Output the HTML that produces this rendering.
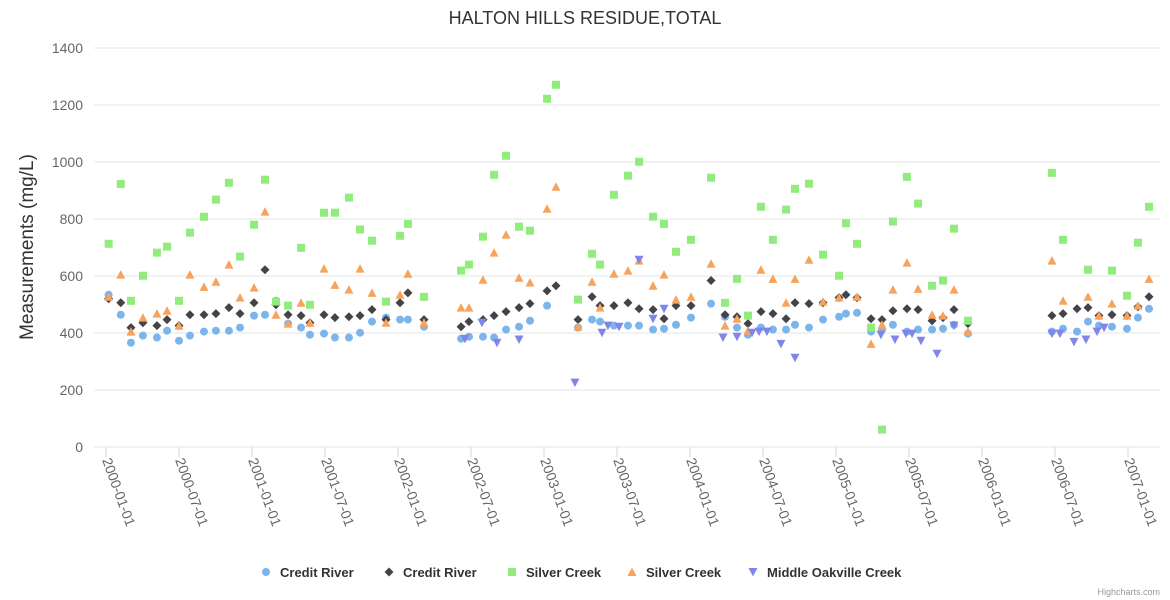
<!DOCTYPE html>
<html><head><meta charset="utf-8">
<style>
html,body{margin:0;padding:0;background:#fff;width:1170px;height:600px;overflow:hidden}
svg{font-family:"Liberation Sans",Arial,sans-serif;display:block}
</style></head>
<body>
<svg id="chart" width="1170" height="600" viewBox="0 0 1170 600" xmlns="http://www.w3.org/2000/svg">
<text x="585" y="24" text-anchor="middle" font-size="18" fill="#333">HALTON HILLS RESIDUE,TOTAL</text>
<text transform="translate(33,247) rotate(-90)" text-anchor="middle" font-size="19" fill="#333">Measurements (mg/L)</text>
<g id="grid"></g><g id="xlabels"></g><g id="marks"></g><g id="legend"></g>
<text x="1160" y="595" text-anchor="end" font-size="9" fill="#999">Highcharts.com</text>
</svg>
<script>
const yTicks = [0,200,400,600,800,1000,1200,1400];
const xTickLabels = ["2000-01-01","2000-07-01","2001-01-01","2001-07-01","2002-01-01","2002-07-01","2003-01-01","2003-07-01","2004-01-01","2004-07-01","2005-01-01","2005-07-01","2006-01-01","2006-07-01","2007-01-01"];
// sample dates, decimal years since 2000-01-01
const sampleYears = [0.018,0.101,0.171,0.253,0.349,0.418,0.5,0.575,0.671,0.753,0.842,0.918,1.014,1.089,1.164,1.247,1.336,1.397,1.493,1.568,1.664,1.740,1.822,1.918,
2.014,2.068,2.178,2.432,2.486,2.582,2.658,2.740,2.829,2.904,3.021,3.082,3.233,3.329,3.384,3.479,3.575,3.651,3.747,3.822,3.904,4.007,
4.144,4.240,4.322,4.397,4.486,4.568,4.658,4.719,4.815,4.911,5.021,5.068,5.144,5.240,5.315,5.390,5.486,5.562,5.658,5.733,5.808,5.904,
6.479,6.555,6.651,6.726,6.801,6.890,6.993,7.068,7.144];
const creditRiverA = [534,464,366,391,384,408,373,391,405,408,408,419,461,464,513,433,419,394,398,384,384,401,440,454,
447,447,422,380,387,387,384,412,422,443,496,null,419,447,440,426,426,426,412,415,429,454,
503,457,419,394,419,412,412,429,419,447,457,468,471,405,412,429,405,412,412,415,429,398,
405,415,405,440,426,422,415,454,485];
const creditRiverB = [520,506,419,436,426,447,426,464,464,468,489,468,506,622,499,464,461,436,464,454,457,461,482,447,
506,541,447,422,440,447,461,475,489,503,548,566,447,527,496,496,506,485,482,450,496,496,
584,464,457,433,475,468,450,506,503,506,524,534,524,450,447,478,485,482,443,454,482,433,
461,468,485,489,461,464,461,492,527];
const silverCreekA = [713,923,513,601,682,703,513,752,808,868,927,668,780,938,510,496,699,499,822,822,875,763,724,510,
741,783,527,619,640,738,955,1022,773,759,1222,1271,517,678,640,885,952,1001,808,783,685,727,
945,506,590,461,843,727,833,906,924,675,601,785,713,419,61,791,948,854,566,584,766,443,
962,727,null,622,null,619,531,717,843];
const silverCreekB = [527,605,405,454,468,478,426,605,562,580,640,524,559,826,464,433,506,436,626,569,552,626,541,436,
534,608,436,489,489,587,682,745,594,577,836,913,422,580,489,608,619,654,566,605,517,527,
643,426,450,408,622,590,506,590,657,510,524,null,527,362,429,552,647,555,464,461,552,405,
654,513,null,527,461,503,461,496,590];
const oakvilleYears = [2.459,2.575,2.678,2.829,3.212,3.397,3.438,3.514,3.651,3.747,3.822,4.226,4.322,4.425,4.473,4.527,4.623,4.719,5.308,5.404,5.479,5.521,5.582,5.692,5.808,6.479,6.534,6.630,6.712,6.788,6.836];
const oakvilleValues = [380,436,366,377,226,401,426,422,657,450,485,384,387,401,405,405,362,313,394,377,398,398,373,327,426,398,398,369,377,405,419];

const NS="http://www.w3.org/2000/svg";
function yScale(v){return 447 - v*(399/1400);}
function xScale(t){return 106 + t*146;}
function mk(tag,attrs,parent){const e=document.createElementNS(NS,tag);for(const k in attrs)e.setAttribute(k,attrs[k]);parent.appendChild(e);return e;}
const grid=document.getElementById('grid'), xl=document.getElementById('xlabels'), marks=document.getElementById('marks'), leg=document.getElementById('legend');
yTicks.forEach(v=>{
  const l=mk('line',{x1:94,x2:1160,y1:yScale(v),y2:yScale(v),stroke:'#e6e6e6','stroke-width':1},grid);
  
  
  const t=mk('text',{x:83,y:yScale(v)+5,'text-anchor':'end','font-size':14,fill:'#666'},grid);
  t.textContent=v;
  
  
});
xTickLabels.forEach((s,i)=>{
  const x=xScale(i*0.5);
  const tk=mk('line',{x1:x,x2:x,y1:447,y2:457,stroke:'#ccd6eb'},xl);
  
  
  const t=mk('text',{transform:`translate(${x-4},${460}) rotate(70)`,'font-size':14,fill:'#666'},xl);
  t.textContent=s;
  
  
});
function shape(kind,x,y,color,parent){
  let e;
  if(kind==='circle') e=mk('circle',{cx:x,cy:y,r:4,fill:color},parent);
  else if(kind==='diamond') e=mk('path',{d:`M${x} ${y-4.5}L${x+4.5} ${y}L${x} ${y+4.5}L${x-4.5} ${y}Z`,fill:color},parent);
  else if(kind==='square') e=mk('rect',{x:x-4,y:y-4,width:8,height:8,fill:color},parent);
  else if(kind==='triangle') e=mk('path',{d:`M${x} ${y-4.5}L${x+4.5} ${y+4}L${x-4.5} ${y+4}Z`,fill:color},parent);
  else e=mk('path',{d:`M${x-4.5} ${y-4}L${x+4.5} ${y-4}L${x} ${y+4.5}Z`,fill:color},parent);
  return e;
}
const series=[
  {name:'Credit River',key:'credit-river-a',kind:'circle',color:'#7cb5ec',xs:sampleYears,ys:creditRiverA,lx:266},
  {name:'Credit River',key:'credit-river-b',kind:'diamond',color:'#434348',xs:sampleYears,ys:creditRiverB,lx:389},
  {name:'Silver Creek',key:'silver-creek-a',kind:'square',color:'#90ed7d',xs:sampleYears,ys:silverCreekA,lx:512},
  {name:'Silver Creek',key:'silver-creek-b',kind:'triangle',color:'#f7a35c',xs:sampleYears,ys:silverCreekB,lx:632},
  {name:'Middle Oakville Creek',key:'middle-oakville-creek',kind:'tri-down',color:'#8085e9',xs:oakvilleYears,ys:oakvilleValues,lx:753}
];
series.forEach(s=>{
  const g=mk('g',{},marks);
  
  
  s.ys.forEach((v,i)=>{
    if(v===null) return;
    const p=shape(s.kind,xScale(s.xs[i]),yScale(v),s.color,g);
    
    
  });
  const lg=mk('g',{},leg);
  
  
  shape(s.kind,s.lx,572,s.color,lg);
  const t=mk('text',{x:s.lx+14,y:577,'font-size':13,'font-weight':'bold',fill:'#333'},lg);
  t.textContent=s.name;
});
</script>
</body></html>
